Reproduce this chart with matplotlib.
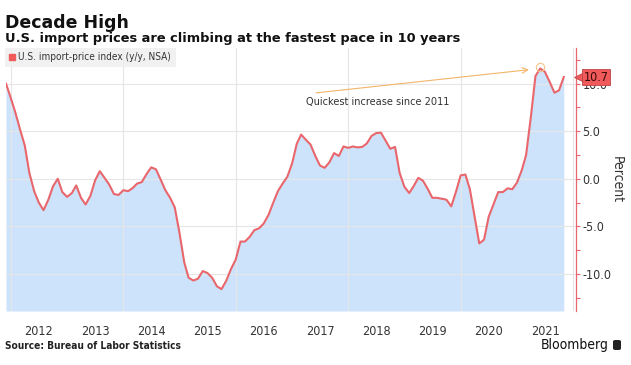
import matplotlib
matplotlib.use("Agg")
import matplotlib.pyplot as plt
from matplotlib.patches import Patch, FancyBboxPatch
import pandas as pd

# U.S. import-price index, y/y %, NSA  (Nov 2011 .. Oct 2021, month-end)
start = "2011-11-30"
yoy = [10.0, 8.5, 6.9, 5.2, 3.5, 0.6, -1.3, -2.5, -3.3, -2.2, -0.8, 0.0,
       -1.4, -1.9, -1.5, -0.7, -2.0, -2.7, -1.8, -0.2, 0.8, 0.1, -0.6, -1.6,
       -1.7, -1.2, -1.3, -1.0, -0.5, -0.35, 0.5, 1.2, 1.0, -0.1, -1.2, -2.0,
       -3.0, -5.7, -8.8, -10.4, -10.7, -10.5, -9.7, -9.9, -10.4, -11.3, -11.6, -10.7,
       -9.5, -8.5, -6.6, -6.6, -6.1, -5.4, -5.2, -4.7, -3.8, -2.5, -1.3, -0.5,
       0.2, 1.6, 3.7, 4.65, 4.1, 3.6, 2.4, 1.4, 1.15, 1.75, 2.7, 2.4,
       3.4, 3.25, 3.4, 3.3, 3.35, 3.7, 4.5, 4.8, 4.85, 4.0, 3.15, 3.35,
       0.6, -0.85, -1.5, -0.8, 0.1, -0.2, -1.05, -2.0, -2.0, -2.1, -2.2, -2.9,
       -1.4, 0.35, 0.45, -1.1, -4.0, -6.8, -6.4, -4.0, -2.7, -1.4, -1.4, -1.0,
       -1.1, -0.4, 0.9, 2.5, 6.5, 10.8, 11.6, 11.25, 10.2, 9.05, 9.3, 10.7]
dates = pd.date_range(start, periods=len(yoy), freq="ME")

years = list(range(2012, 2022))
yticks = [-10, -5, 0, 5, 10]
last_label = "10.7"
note = "Quickest increase since 2011"

line_c = "#e8666c"
fill_c = "#cce3fb"
txt_c = "#333333"
nf = dict(family="DejaVu Sans", stretch="condensed")

fig = plt.figure(figsize=(6.31, 3.65), dpi=100)
ax = fig.add_axes([6 / 631, 1 - 311 / 365, 569.5 / 631, 263 / 365])

ymin, ymax = -13.9, 13.75
ax.fill_between(dates, yoy, ymin, color=fill_c, lw=0, zorder=1)
ax.plot(dates, yoy, color=line_c, lw=1.5, zorder=3)

ax.set_ylim(ymin, ymax)
ax.set_xlim(pd.Timestamp("2011-11-30"), pd.Timestamp("2022-01-15"))

# x: labels at mid-year, gridlines every second January
ax.set_xticks([pd.Timestamp(f"{y}-07-01") for y in years])
ax.set_xticklabels([str(y) for y in years], color=txt_c, fontsize=9, **nf)
ax.set_xticks([pd.Timestamp(f"{y}-01-01") for y in range(2012, 2023, 2)], minor=True)
ax.tick_params(axis="x", which="both", length=0, pad=10)
ax.grid(axis="x", which="minor", color="#e6e6e6", lw=0.8, zorder=0)

# y on the right
ax.yaxis.tick_right()
ax.yaxis.set_label_position("right")
ax.set_yticks(yticks)
ax.set_yticklabels([f"{v:.1f}" for v in yticks], color=txt_c, fontsize=9, **nf)
ax.set_yticks([-12.5, -7.5, -2.5, 2.5, 7.5, 12.5], minor=True)
ax.tick_params(axis="y", which="both", colors=line_c, labelcolor=txt_c, length=3, width=0.8, pad=2)
ax.grid(axis="y", which="major", color="#e6e6e6", lw=0.8, zorder=0)
ax.set_ylabel("Percent", rotation=270, color=txt_c, fontsize=10, labelpad=9, **nf)

for s in ["top", "left", "bottom"]:
    ax.spines[s].set_visible(False)
ax.spines["right"].set_color(line_c)
ax.spines["right"].set_linewidth(0.9)

# legend
leg = ax.legend(handles=[Patch(color="#f05a5a", label="U.S. import-price index (y/y, NSA)")],
                loc="upper left", bbox_to_anchor=(-0.002, 1.0), borderaxespad=0,
                frameon=True, fancybox=False, handlelength=0.6, handleheight=0.6,
                handletextpad=0.3, borderpad=0.45, prop=dict(size=7.2, **nf))
leg.get_frame().set_facecolor("#eeeeee")
leg.get_frame().set_edgecolor("none")
for t in leg.get_texts():
    t.set_color(txt_c)

# annotation
ipk = yoy.index(max(yoy))
ax.plot(dates[ipk], yoy[ipk] + 0.2, "o", ms=6, mfc="none", mec="#f5c58a", mew=0.8, zorder=4)
ax.annotate("", xy=(pd.Timestamp("2021-04-05"), 11.5), xytext=(pd.Timestamp("2017-05-18"), 9.0),
            arrowprops=dict(arrowstyle="->", color="#f2b46a", lw=0.8, mutation_scale=10))
ax.text(pd.Timestamp("2017-04-01"), 8.1, note, color=txt_c, fontsize=7.8, va="center",
        ha="left", **nf)

# last value tag (covers most of the 10.0 label, as in the original)
ax.plot([1.006], [float(last_label)], marker="<", ms=7, color="#f05a5a", mec="#c04545", mew=0.6,
        transform=ax.get_yaxis_transform(), clip_on=False, zorder=6)
ax.annotate(last_label, xy=(1.0, float(last_label)), xycoords=ax.get_yaxis_transform(),
            xytext=(6, 0), textcoords="offset points", va="center", ha="left",
            fontsize=9, color="#3a0a0a", zorder=7,
            bbox=dict(boxstyle="square,pad=0.12", fc="#f05a5a", ec="#c04545", lw=0.6), **nf)

# titles and footer
fig.text(5 / 631, 1 - 28 / 365, "Decade High", fontsize=12.5, fontweight="bold", color="#111111")
fig.text(5 / 631, 1 - 42 / 365, "U.S. import prices are climbing at the fastest pace in 10 years",
         fontsize=9.4, fontweight="bold", color="#111111")
fig.text(5 / 631, 1 - 349 / 365, "Source: Bureau of Labor Statistics", fontsize=7.3,
         fontweight="bold", color="#222222", **nf)
fig.text(609 / 631, 1 - 349 / 365, "Bloomberg", fontsize=10, color="#111111", ha="right", **nf)
fig.patches.append(FancyBboxPatch((613 / 631, 1 - 350 / 365), 8 / 631, 10 / 365,
                                  boxstyle="round,pad=0,rounding_size=0.004",
                                  transform=fig.transFigure, fc="#222222", ec="none"))

fig.savefig("out.png", dpi=100)
